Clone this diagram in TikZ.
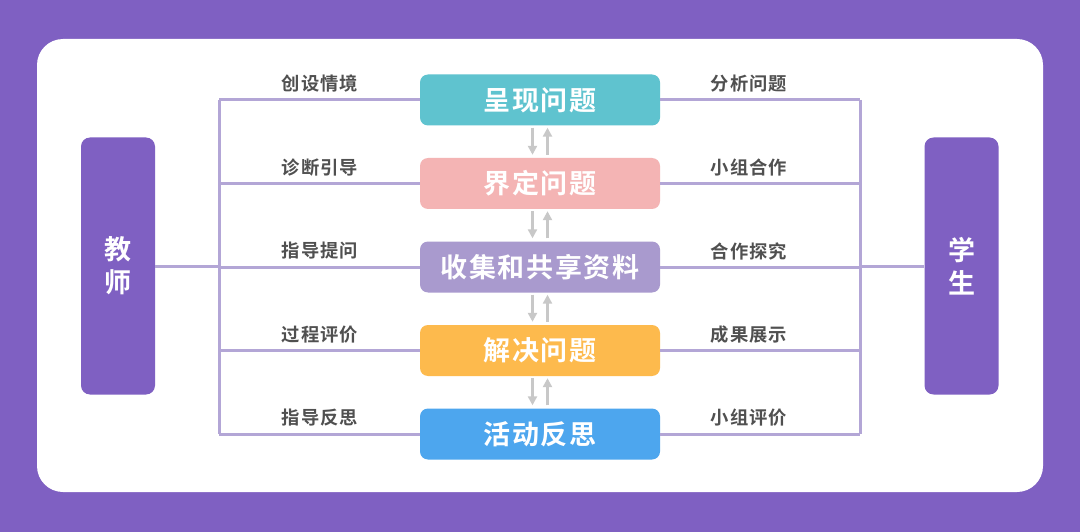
\documentclass[tikz,border=0pt]{standalone}
\usepackage{fontspec}
\setmainfont{Noto Sans CJK SC}[BoldFont={Noto Sans CJK SC Bold}]
\usetikzlibrary{arrows.meta}
\definecolor{bgpurple}{HTML}{7F60C2}
\definecolor{linepurple}{HTML}{B3A6D6}
\definecolor{cA}{HTML}{5FC3CF}
\definecolor{cB}{HTML}{F4B4B4}
\definecolor{cC}{HTML}{A99ACE}
\definecolor{cD}{HTML}{FDBA4D}
\definecolor{cE}{HTML}{4DA6EE}
\definecolor{labelgray}{HTML}{505050}
\definecolor{arrowgray}{HTML}{C8C8C8}
\newcommand{\stxt}[1]{\addfontfeature{LetterSpace=6}#1\hspace{-0.06em}}
\newcommand{\ltxt}[1]{\addfontfeature{LetterSpace=6}#1\hspace{-0.06em}}
\begin{document}
\begin{tikzpicture}[x=1pt,y=-1pt,
  stagebox/.style={rounded corners=8pt, minimum width=240pt, minimum height=51pt, inner sep=0pt,
    text=white, font=\fontsize{27}{30}\selectfont\bfseries},
  rolebox/.style={rounded corners=9pt, fill=bgpurple, minimum width=74pt, minimum height=257pt, inner sep=0pt,
    text=white, font=\fontsize{27}{33}\selectfont\bfseries, align=center},
  lbl/.style={text=labelgray, font=\fontsize{18.3}{20}\selectfont\bfseries, inner sep=0pt},
  conn/.style={draw=linepurple, line width=3pt},
  flow/.style={draw=arrowgray, line width=3.5pt, -{Triangle[length=9pt,width=9pt]}}
]
\useasboundingbox (0,0) rectangle (1080,532);
\fill[bgpurple] (0,0) rectangle (1080,532);
\fill[white, rounded corners=26pt] (37,39) rectangle (1043,492);

\node[rolebox] (teacher) at (118,266) {教\\师};
\node[rolebox] (student) at (961.5,266) {学\\生};

\node[stagebox, fill=cA] (s1) at (540,100) {\stxt{呈现问题}};
\node[stagebox, fill=cB] (s2) at (540,183.5) {\stxt{界定问题}};
\node[stagebox, fill=cC] (s3) at (540,267) {\stxt{收集和共享资料}};
\node[stagebox, fill=cD] (s4) at (540,350.5) {\stxt{解决问题}};
\node[stagebox, fill=cE] (s5) at (540,434) {\stxt{活动反思}};

\coordinate (LT) at (219,100);
\coordinate (LB) at (219,434);
\coordinate (RT) at (860,100);
\coordinate (RB) at (860,434);

\draw[conn] (LT) -- (LB);
\draw[conn] (RT) -- (RB);
\foreach \s in {s1,s2,s3,s4,s5} {
  \draw[conn] (LT |- \s.west) -- (\s.west);
  \draw[conn] (\s.east) -- (RT |- \s.east);
}
\draw[conn] (teacher.east) -- (LT |- teacher.east);
\draw[conn] (student.west) -- (RT |- student.west);

\node[lbl] at (320,84) {\ltxt{创设情境}};
\node[lbl] at (320,167.5) {\ltxt{诊断引导}};
\node[lbl] at (320,251) {\ltxt{指导提问}};
\node[lbl] at (320,334.5) {\ltxt{过程评价}};
\node[lbl] at (320,418) {\ltxt{指导反思}};
\node[lbl] at (749,84) {\ltxt{分析问题}};
\node[lbl] at (749,167.5) {\ltxt{小组合作}};
\node[lbl] at (749,251) {\ltxt{合作探究}};
\node[lbl] at (749,334.5) {\ltxt{成果展示}};
\node[lbl] at (749,418) {\ltxt{小组评价}};

\foreach \a/\b in {s1/s2,s2/s3,s3/s4,s4/s5} {
  \draw[flow] ([xshift=-7.5pt,yshift=-2pt]\a.south) -- ([xshift=-7.5pt,yshift=3pt]\b.north);
  \draw[flow] ([xshift=7.5pt,yshift=3pt]\b.north) -- ([xshift=7.5pt,yshift=-2pt]\a.south);
}
\end{tikzpicture}
\end{document}
